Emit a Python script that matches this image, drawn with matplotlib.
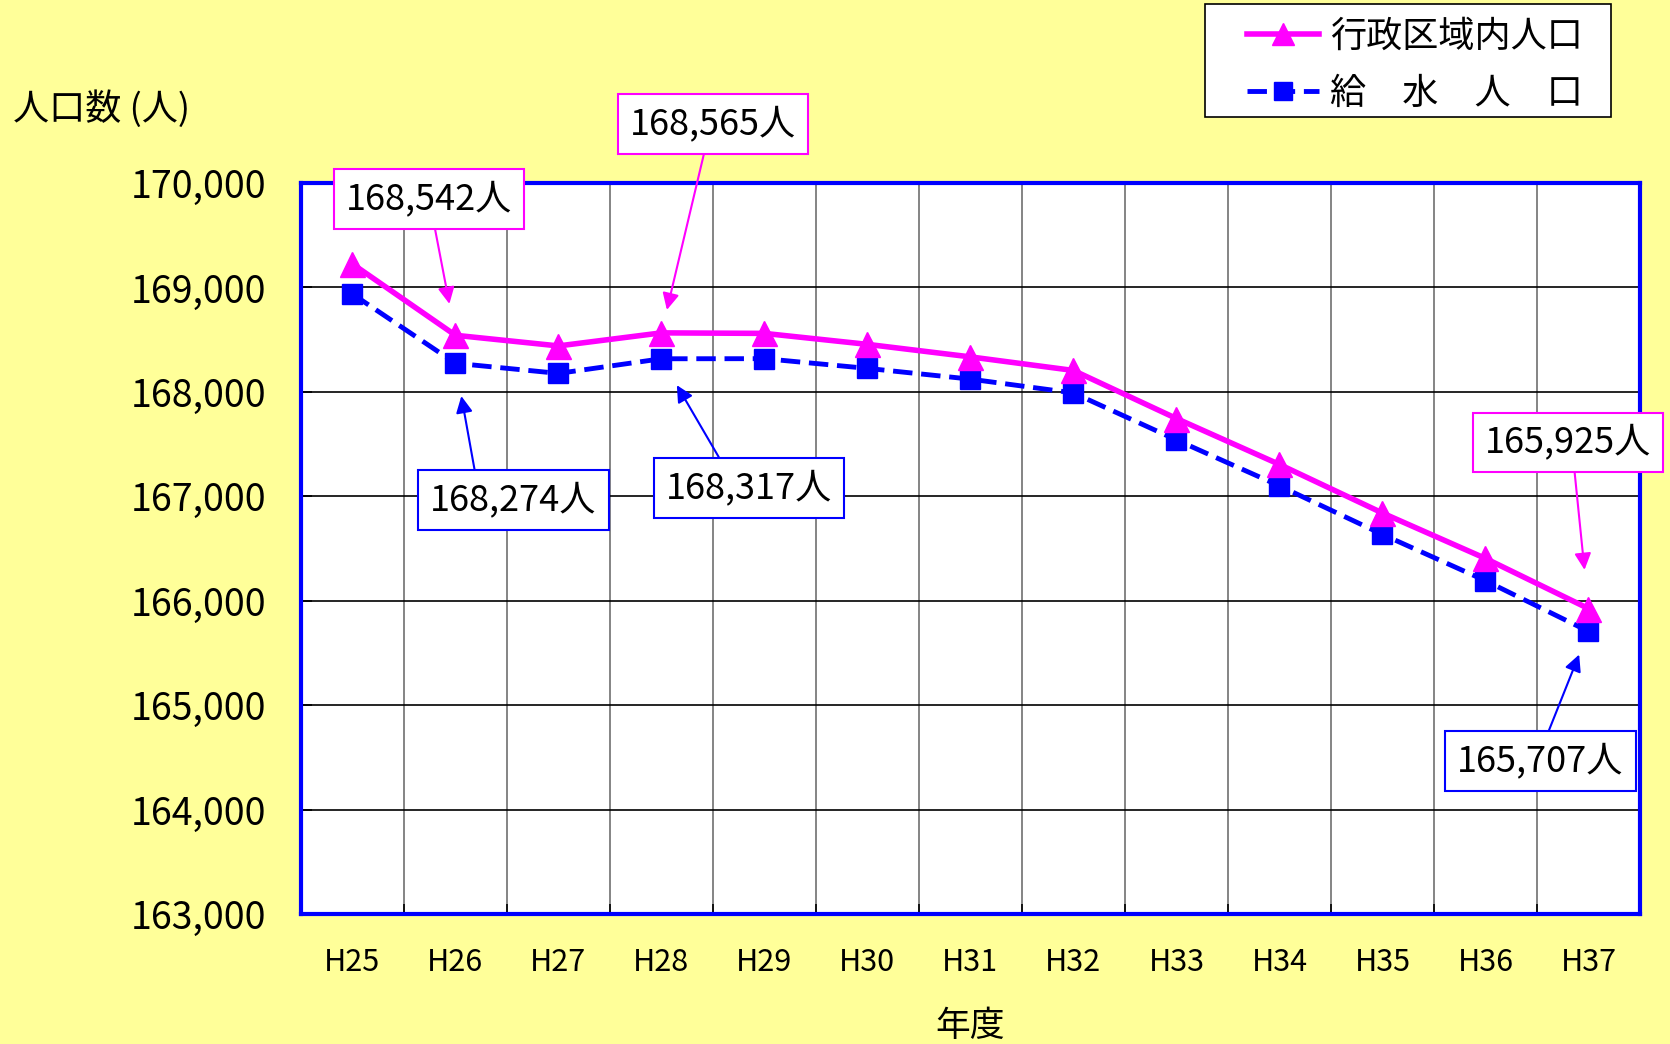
import numpy as np
import matplotlib.pyplot as plt
from matplotlib.patches import Rectangle
from matplotlib.ticker import FuncFormatter

plt.rcParams['font.family'] = ['Noto Sans CJK JP', 'DejaVu Sans']

years = ['H25', 'H26', 'H27', 'H28', 'H29', 'H30', 'H31',
         'H32', 'H33', 'H34', 'H35', 'H36', 'H37']
# 行政区域内人口
gyosei = [169225, 168542, 168440, 168565, 168560, 168455, 168335,
          168205, 167745, 167305, 166840, 166405, 165925]
# 給水人口
kyusui = [168937, 168274, 168177, 168317, 168318, 168225, 168122,
          167990, 167540, 167100, 166635, 166192, 165707]

PINK = '#FF00FF'
BLUE = '#0000FF'
W, H = 1670, 1044

fig = plt.figure(figsize=(W / 100, H / 100), dpi=100, facecolor='#FFFF99')
ax = fig.add_axes([0.1802, 0.1245, 0.8018, 0.7002])
ax.set_facecolor('white')

x = np.arange(len(years))
ax.plot(x, kyusui, color=BLUE, lw=3.5, ls=(0, (4, 1.8)), marker='s', ms=15,
        label='給　水　人　口', zorder=3)
ax.plot(x, gyosei, color=PINK, lw=4, marker='^', ms=18,
        label='行政区域内人口', zorder=4)

ax.set_xlim(-0.5, len(years) - 0.5)
ax.set_ylim(163000, 170000)
ax.set_xticks(x)
ax.set_xticklabels(years)
ax.set_xticks(np.arange(-0.5, len(years), 1), minor=True)
ax.set_yticks(np.arange(163000, 170001, 1000))
ax.yaxis.set_major_formatter(FuncFormatter(lambda v, p: f'{int(v):,}'))

ax.grid(axis='y', which='major', color='black', lw=1.2, zorder=1)
ax.grid(axis='x', which='minor', color='#707070', lw=1.2, zorder=1)
ax.tick_params(axis='x', which='major', length=0, pad=24, labelsize=22)
ax.tick_params(axis='x', which='minor', direction='in', length=7,
               color='black', width=1.2)
ax.tick_params(axis='y', direction='in', length=8, color='black',
               width=1.2, pad=25, labelsize=27)
for s in ax.spines.values():
    s.set_color(BLUE)
    s.set_linewidth(3)

ax.set_xlabel('年度', fontsize=25, labelpad=22)
fig.text(13 / W, 1 - 109 / H, '人口数 (人)', fontsize=26,
         ha='left', va='center')

# (series, index, colour, text offset px, arrow start on box, gap at tip)
notes = [
    (gyosei, 1, PINK, (-26, 136), (0.52, 0.0), 23),
    (gyosei, 3, PINK, (52, 209), (0.46, 0.0), 17),
    (kyusui, 1, BLUE, (58, -137), (0.28, 1.0), 24),
    (kyusui, 3, BLUE, (88, -129), (0.36, 1.0), 22),
    (gyosei, 12, PINK, (-20, 166), (0.53, 0.0), 28),
    (kyusui, 12, BLUE, (-48, -130), (0.52, 1.0), 18),
]
for series, i, col, off, rel, gap in notes:
    ax.annotate(f'{series[i]:,}人', xy=(i, series[i]), xytext=off,
                textcoords='offset pixels', fontsize=26,
                ha='center', va='center', zorder=6,
                bbox=dict(boxstyle='square,pad=0.33', fc='white',
                          ec=col, lw=1.5),
                arrowprops=dict(arrowstyle='-|>', color=col, lw=1.5,
                                relpos=rel, shrinkA=0, shrinkB=gap,
                                mutation_scale=25))

# legend frame drawn separately so the box can be wider than its contents
fig.patches.append(Rectangle((1205 / W, 1 - 117 / H), 406 / W, 113 / H,
                             transform=fig.transFigure, fc='white',
                             ec='black', lw=1.2, zorder=5))
handles, labels = ax.get_legend_handles_labels()
leg = fig.legend(handles[::-1], labels[::-1], loc='center left',
                 bbox_to_anchor=(1247 / W, 1 - 65 / H),
                 fontsize=26, frameon=False, handlelength=2.0,
                 handletextpad=0.3, labelspacing=0.58, borderpad=0,
                 borderaxespad=0, markerscale=0.9)
leg.set_zorder(6)

fig.savefig('out.png', dpi=100, facecolor=fig.get_facecolor())
